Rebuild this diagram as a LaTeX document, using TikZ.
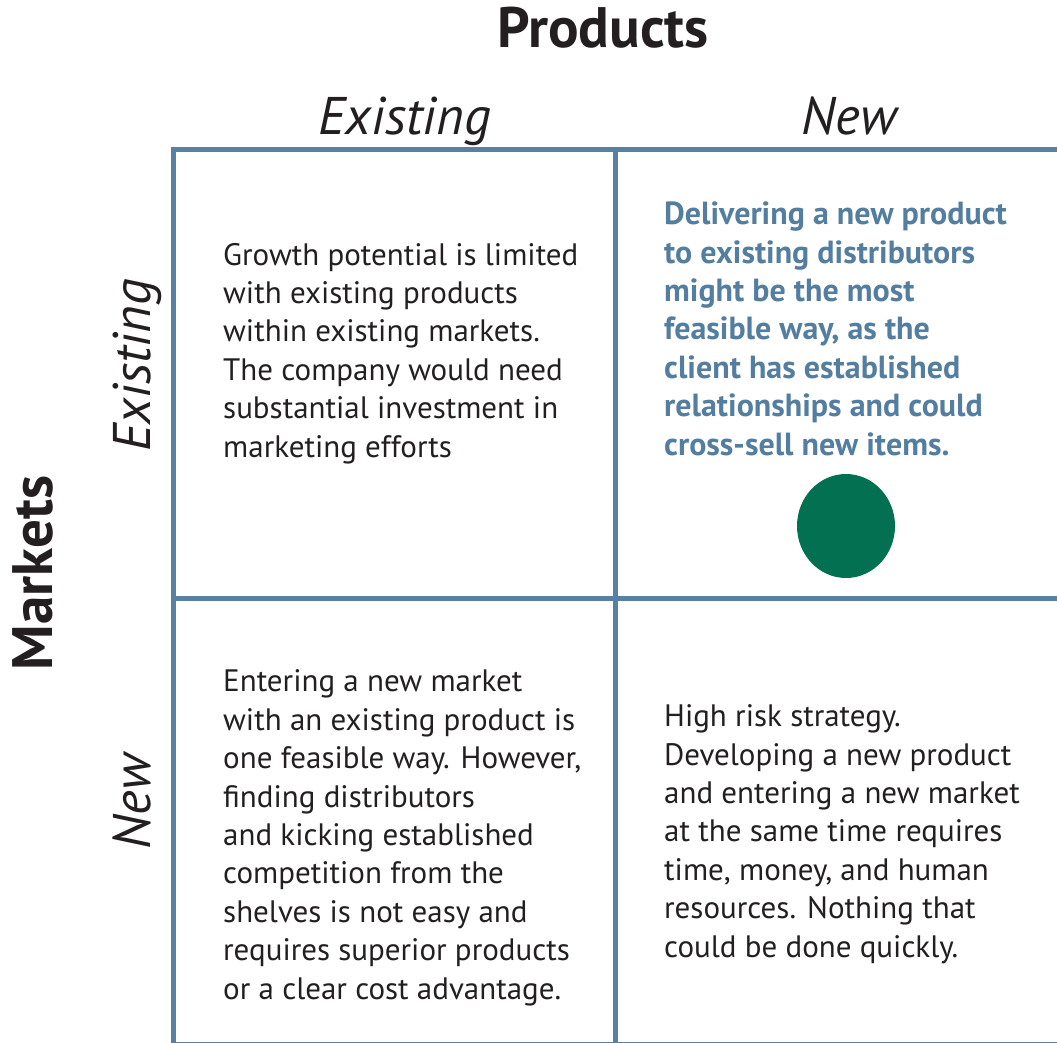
\documentclass[tikz,border=0pt]{standalone}
\usepackage{fontspec}
\setmainfont{PT Sans}
\usetikzlibrary{shapes.geometric}
\definecolor{gridblue}{RGB}{88,128,162}
\definecolor{noteblue}{RGB}{84,126,160}
\definecolor{dotgreen}{RGB}{3,112,82}
\definecolor{inkblack}{RGB}{35,31,32}
\begin{document}
\begin{tikzpicture}[x=1pt, y=-1pt,
    cell/.style={anchor=base west, align=left, inner sep=0pt, text=inkblack,
        font=\fontsize{31}{38.4}\selectfont},
    note/.style={cell, text=noteblue, font=\fontsize{32}{38.4}\selectfont\bfseries},
    head/.style={anchor=base, inner sep=0pt, text=inkblack,
        font=\fontsize{53}{53}\selectfont\itshape},
    title/.style={anchor=base, inner sep=0pt, text=inkblack,
        font=\fontsize{57}{57}\selectfont\bfseries}]
    \useasboundingbox (0,0) rectangle (1057,1043);

    % grid
    \draw[gridblue, line width=5pt] (1070,150) -- (173,150) -- (173,1060);
    \draw[gridblue, line width=5pt] (615,150) -- (615,1060);
    \draw[gridblue, line width=5pt] (173,598) -- (1070,598);
    \draw[gridblue, line width=5pt] (173,1044) -- (1070,1044);

    % axis titles
    \node[title] (products) at (603,48) {Products};
    \node[title, rotate=90] (markets) at (52,573) {Markets};
    \node[head] (pexist) at (405,135) {Existing};
    \node[head] (pnew) at (849,135) {New};
    \node[head, rotate=90] (mexist) at (150,365) {Existing};
    \node[head, rotate=90] (mnew) at (150,802) {New};

    % cells (base = last line)
    \node[cell] (tl) at (223,457) {Growth potential is limited\\with existing products\\within existing markets.\\The company would need\\substantial investment in\\marketing efforts};
    \node[note] (tr) at (664,455) {Delivering a new product\\to existing distributors\\might be the most\\feasible way, as the\\client has established\\relationships and could\\cross-sell new items.};
    \node[cell] (bl) at (223,999) {Entering a new market\\with an existing product is\\one feasible way. However,\\finding distributors\\and kicking established\\competition from the\\shelves is not easy and\\requires superior products\\or a clear cost advantage.};
    \node[cell] (br) at (664,957) {High risk strategy.\\Developing a new product\\and entering a new market\\at the same time requires\\time, money, and human\\resources. Nothing that\\could be done quickly.};

    \node[ellipse, fill=dotgreen, inner sep=0pt, minimum width=98pt, minimum height=104pt] (dot) at (846,526) {};
\end{tikzpicture}
\end{document}
